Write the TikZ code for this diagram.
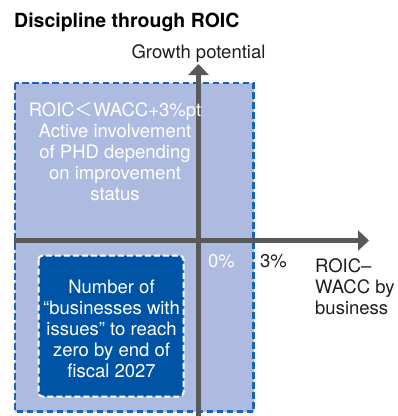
\documentclass[tikz,border=0pt]{standalone}
\usepackage{fontspec}
\setmainfont{TeX Gyre Heros}
\newfontfamily\cjk{Noto Sans CJK JP}
\usetikzlibrary{arrows.meta}
\definecolor{zonefill}{HTML}{AEBBE0}
\definecolor{zoneedge}{HTML}{1B63B5}
\definecolor{targetfill}{HTML}{0054A6}
\definecolor{axisgray}{HTML}{595959}
\definecolor{ink}{HTML}{1E1E1E}
\tikzset{
  zone/.style={fill=zonefill, draw=zoneedge, line width=2.6pt, dash pattern=on 6.5pt off 3.5pt},
  target/.style={fill=targetfill, draw=white, line width=2pt, dash pattern=on 6pt off 3pt, rounded corners=4pt},
  axis/.style={draw=axisgray, line width=5pt, -{Triangle[length=11pt,width=20pt]}},
  label/.style={inner sep=0pt, font=\fontsize{18.5}{21}\selectfont, text=ink},
  wlabel/.style={label, text=white, align=center},
}
\begin{document}
\begin{tikzpicture}[x=1pt,y=-1pt]
  \useasboundingbox (0,0) rectangle (398,416);
  % shaded zone below the ROIC threshold
  \path[zone] (15,83) rectangle (253.5,411.5);
  % axes
  \coordinate (vbot) at (198.5,418);
  \coordinate (vtop) at (198.5,64);
  \coordinate (hleft) at (14,240.5);
  \coordinate (hright) at (369,240.5);
  \draw[axis] (vbot) -- (vtop);
  \draw[axis] (hleft) -- (hright);
  % target box
  \path[target] (38.5,255.5) rectangle (183.5,396.5);
  % title and axis labels
  \node[label, anchor=base west, font=\fontsize{19.5}{22}\bfseries, text=black] (title) at (14,27) {Discipline through ROIC};
  \node[label, anchor=base] (ylab) at (198.5,58) {Growth potential};
  \node[label, anchor=north west, align=left] (xlab) at (315,258.5) {ROIC–\\WACC by\\business};
  \node[label, anchor=base west] (three) at (260,267) {3\%};
  \node[label, anchor=base west, text=white] (zero) at (208,267) {0\%};
  % zone description
  \node[wlabel, anchor=north] (zonetext) at (115,101.7)
    {ROIC{\cjk ＜}WACC+3\%pt\\Active involvement\\of PHD depending\\on improvement\\status};
  % target description
  \node[wlabel, anchor=north] (targettext) at (111.5,279.7)
    {Number of\\“businesses with\\issues” to reach\\zero by end of\\fiscal 2027};
\end{tikzpicture}
\end{document}
